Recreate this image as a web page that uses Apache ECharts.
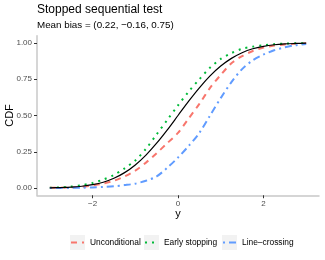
<!DOCTYPE html>
<html><head><meta charset="utf-8">
<script src="https://cdn.jsdelivr.net/npm/echarts@6/dist/echarts.min.js"></script>
<style>html,body{margin:0;padding:0;background:#fff}#c{width:325px;height:260px}</style>
</head><body><div id="c"></div>
<script>
const xs = [-3,-2.75,-2.5,-2.25,-2,-1.75,-1.5,-1.25,-1,-0.75,-0.5,-0.25,0,0.25,0.5,0.75,1,1.25,1.5,1.75,2,2.25,2.5,2.75,3];
const truth = [0.001,0.003,0.006,0.012,0.023,0.040,0.067,0.106,0.159,0.227,0.309,0.401,0.5,0.599,0.691,0.773,0.841,0.894,0.933,0.960,0.977,0.988,0.994,0.997,0.999];
const unconditional = [0.001,0.002,0.004,0.008,0.018,0.030,0.050,0.080,0.120,0.175,0.240,0.310,0.380,0.480,0.580,0.690,0.780,0.860,0.910,0.945,0.968,0.982,0.990,0.995,0.998];
const earlyStopping = [0.002,0.004,0.010,0.019,0.035,0.058,0.090,0.135,0.190,0.270,0.370,0.470,0.570,0.665,0.750,0.830,0.890,0.930,0.960,0.975,0.985,0.992,0.996,0.998,0.999];
const lineCrossing = [0.000,0.000,0.001,0.002,0.004,0.007,0.012,0.020,0.030,0.050,0.080,0.140,0.210,0.290,0.380,0.500,0.620,0.730,0.820,0.880,0.920,0.950,0.970,0.985,0.993];
const xTicks = [-2,0,2];
const yTicks = [0,0.25,0.5,0.75,1];
const names = ['Unconditional','Early stopping','Line\u2013crossing'];

const pairs = a => xs.map((x,i)=>[x,a[i]]);
const FF = '"Liberation Sans", Arial, sans-serif';
const colors = ['#F8766D','#00BA38','#619CFF'];
const dashes = [[6,5],[2,5],[2,4,7,4]];
const legendX = [70,144,222];
const keyY = 235, keySize = 15;

const legendGraphics = [];
names.forEach((n,i)=>{
  const x = legendX[i];
  legendGraphics.push({type:'rect', shape:{x:x, y:keyY, width:keySize, height:keySize}, style:{fill:'#f2f2f2'}, silent:true});
  legendGraphics.push({type:'line', shape:{x1:x+1, y1:keyY+keySize/2, x2:x+keySize-1, y2:keyY+keySize/2},
    style:{stroke:colors[i], lineWidth:2, lineDash:dashes[i]}, silent:true});
  legendGraphics.push({type:'text', x:x+keySize+5, y:keyY+keySize/2,
    style:{text:n, fontSize:8.4, fontFamily:FF, fill:'#000', textVerticalAlign:'middle', verticalAlign:'middle'}, silent:true});
});

const chart = echarts.init(document.getElementById('c'), null, {renderer:'canvas'});
chart.setOption({
  animation:false,
  backgroundColor:'#fff',
  textStyle:{fontFamily:FF},
  title:[
    {text:'Stopped sequential test', left:37, top:4, padding:0, textStyle:{fontSize:12, fontWeight:'normal', color:'#000', fontFamily:FF}},
    {text:'Mean bias = (0.22, \u22120.16, 0.75)', left:37, top:20, padding:0, textStyle:{fontSize:9.8, fontWeight:'normal', color:'#000', fontFamily:FF}}
  ],
  grid:{left:37, right:6, top:35.75, bottom:64.75, containLabel:false, outerBoundsMode:'none'},
  xAxis:{type:'value', min:-3.3, max:3.3,
    name:'y', nameLocation:'middle', nameGap:13, nameMoveOverlap:false, nameTextStyle:{fontSize:11, color:'#000', fontFamily:FF},
    axisLine:{show:true, onZero:false, lineStyle:{color:'#c8c8c8', width:1.5}},
    axisTick:{show:true, length:3, lineStyle:{color:'#333'}, customValues:xTicks},
    axisLabel:{fontSize:8, color:'#4d4d4d', margin:5, customValues:xTicks, fontFamily:FF,
      formatter:v=>String(v).replace('-','\u2212')},
    splitLine:{show:false}},
  yAxis:{type:'value', min:-0.05, max:1.05,
    name:'CDF', nameLocation:'middle', nameGap:22, nameMoveOverlap:false, nameRotate:90, nameTextStyle:{fontSize:11, color:'#000', fontFamily:FF},
    axisLine:{show:true, onZero:false, lineStyle:{color:'#c8c8c8', width:1.5}},
    axisTick:{show:true, length:3, lineStyle:{color:'#333'}, customValues:yTicks},
    axisLabel:{fontSize:8, color:'#4d4d4d', margin:5, customValues:yTicks, fontFamily:FF,
      formatter:v=>v.toFixed(2)},
    splitLine:{show:false}},
  graphic: legendGraphics,
  series:[
    {name:'truth', type:'line', data:pairs(truth), smooth:0.3, showSymbol:false, symbol:'none', z:5,
      lineStyle:{color:'#000', width:1.2}},
    {name:names[0], type:'line', data:pairs(unconditional), smooth:0.3, showSymbol:false, symbol:'none',
      itemStyle:{color:colors[0]}, lineStyle:{color:colors[0], width:2, type:dashes[0]}},
    {name:names[1], type:'line', data:pairs(earlyStopping), smooth:0.3, showSymbol:false, symbol:'none',
      itemStyle:{color:colors[1]}, lineStyle:{color:colors[1], width:2, type:dashes[1]}},
    {name:names[2], type:'line', data:pairs(lineCrossing), smooth:0.3, showSymbol:false, symbol:'none',
      itemStyle:{color:colors[2]}, lineStyle:{color:colors[2], width:2, type:dashes[2]}}
  ]
});
</script></body></html>
